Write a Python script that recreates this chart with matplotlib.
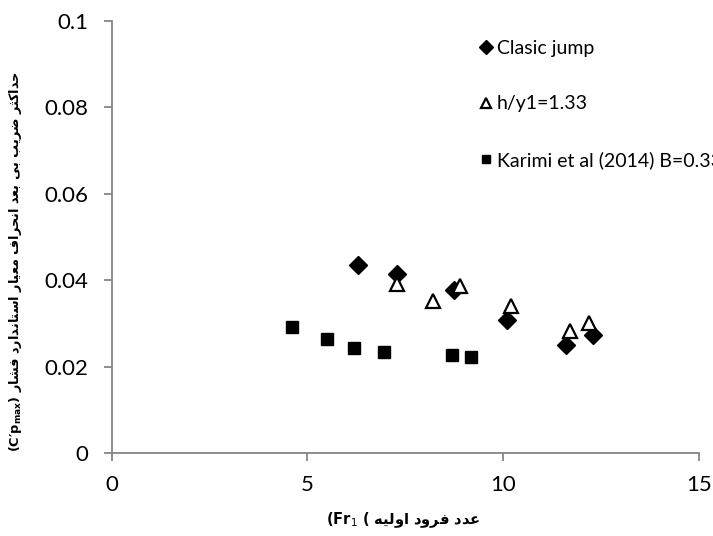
import matplotlib
matplotlib.use("Agg")
import matplotlib.pyplot as plt

# Persian letters -> (isolated, final, initial, medial) presentation forms
FORMS = {
    "ا": ("\uFE8D", "\uFE8E", None, None),
    "د": ("\uFEA9", "\uFEAA", None, None),
    "ر": ("\uFEAD", "\uFEAE", None, None),
    "و": ("\uFEED", "\uFEEE", None, None),
    "ب": ("\uFE8F", "\uFE90", "\uFE91", "\uFE92"),
    "ت": ("\uFE95", "\uFE96", "\uFE97", "\uFE98"),
    "ث": ("\uFE99", "\uFE9A", "\uFE9B", "\uFE9C"),
    "ح": ("\uFEA1", "\uFEA2", "\uFEA3", "\uFEA4"),
    "س": ("\uFEB1", "\uFEB2", "\uFEB3", "\uFEB4"),
    "ش": ("\uFEB5", "\uFEB6", "\uFEB7", "\uFEB8"),
    "ض": ("\uFEBD", "\uFEBE", "\uFEBF", "\uFEC0"),
    "ع": ("\uFEC9", "\uFECA", "\uFECB", "\uFECC"),
    "ف": ("\uFED1", "\uFED2", "\uFED3", "\uFED4"),
    "ل": ("\uFEDD", "\uFEDE", "\uFEDF", "\uFEE0"),
    "م": ("\uFEE1", "\uFEE2", "\uFEE3", "\uFEE4"),
    "ن": ("\uFEE5", "\uFEE6", "\uFEE7", "\uFEE8"),
    "ه": ("\uFEE9", "\uFEEA", "\uFEEB", "\uFEEC"),
    "ک": ("\uFB8E", "\uFB8F", "\uFB90", "\uFB91"),
    "ی": ("\uFBFC", "\uFBFD", "\uFBFE", "\uFBFF"),
}


def shape(text):
    """Join Persian letters and return them in visual (left-to-right) order."""
    out = []
    for i, ch in enumerate(text):
        if ch not in FORMS:
            out.append(ch)
            continue
        prev = text[i - 1] if i > 0 else ""
        nxt = text[i + 1] if i + 1 < len(text) else ""
        join_prev = prev in FORMS and FORMS[prev][2] is not None
        join_next = FORMS[ch][2] is not None and nxt in FORMS
        iso, fin, ini, med = FORMS[ch]
        if join_prev and join_next:
            out.append(med)
        elif join_prev:
            out.append(fin)
        elif join_next:
            out.append(ini)
        else:
            out.append(iso)
    return "".join(out)[::-1]


# Clasic jump
fr_classic = [6.3, 7.3, 8.75, 10.1, 11.6, 12.3]
cp_classic = [0.0435, 0.0415, 0.0378, 0.0308, 0.0250, 0.0274]
# h/y1 = 1.33
fr_h133 = [7.3, 8.2, 8.9, 10.2, 11.7, 12.2]
cp_h133 = [0.0391, 0.0352, 0.0387, 0.0340, 0.0282, 0.0301]
# Karimi et al (2014) B=0.33
fr_karimi = [4.6, 5.5, 6.2, 6.97, 8.7, 9.17]
cp_karimi = [0.0292, 0.0264, 0.0243, 0.0234, 0.0227, 0.0222]

labels = ["Clasic jump", "h/y1=1.33", "Karimi et al (2014) B=0.33"]
xticks = [0, 5, 10, 15]
yticks = [0, 0.02, 0.04, 0.06, 0.08, 0.1]
ytick_labels = ["0", "0.02", "0.04", "0.06", "0.08", "0.1"]

xlabel_fa = "عدد فرود اولیه"
ylabel_fa = "حداکثر ضریب بی بعد انحراف معیار استاندارد فشار"

plt.rcParams["font.family"] = ["Lato", "DejaVu Sans"]
grey = "#868686"

fig = plt.figure(figsize=(7.13, 5.36), dpi=100)
ax = fig.add_axes([0.1567, 0.1549, 0.8233, 0.8059])

ax.plot(fr_classic, cp_classic, "D", color="black", markersize=9.5, label=labels[0])
ax.plot(fr_h133, cp_h133, "^", markerfacecolor="white", markeredgecolor="black",
        markeredgewidth=1.6, markersize=10, label=labels[1])
ax.plot(fr_karimi, cp_karimi, "s", color="black", markersize=9, label=labels[2])

ax.set_xlim(0, 15)
ax.set_ylim(0, 0.1)
ax.set_xticks(xticks)
ax.set_yticks(yticks)
ax.set_yticklabels(ytick_labels)
ax.tick_params(direction="out", length=6, width=1.3, color=grey, labelsize=16,
               labelcolor="black")
ax.tick_params(axis="y", pad=11)
ax.tick_params(axis="x", pad=10)
for side in ("top", "right"):
    ax.spines[side].set_visible(False)
for side in ("left", "bottom"):
    ax.spines[side].set_color(grey)
    ax.spines[side].set_linewidth(1.3)

leg = ax.legend(loc="upper left", bbox_to_anchor=(0.6085, 0.975), frameon=False,
                fontsize=14, labelspacing=2.0, handletextpad=0.05,
                handlelength=1.0, markerscale=0.7, borderaxespad=0)

label_font = ["DejaVu Sans"]
ax.set_xlabel("(Fr$_1$ ( " + shape(xlabel_fa), fontsize=10.5, fontweight="bold",
              family=label_font)
ax.xaxis.set_label_coords(0.497, -0.132)
ax.set_ylabel("(C\u2032p$_{\\mathregular{max}}$) " + shape(ylabel_fa), fontsize=9.3,
              fontweight="bold", family=label_font)
ax.yaxis.set_label_coords(-0.149, 0.442)

fig.savefig("out.png", dpi=100)
